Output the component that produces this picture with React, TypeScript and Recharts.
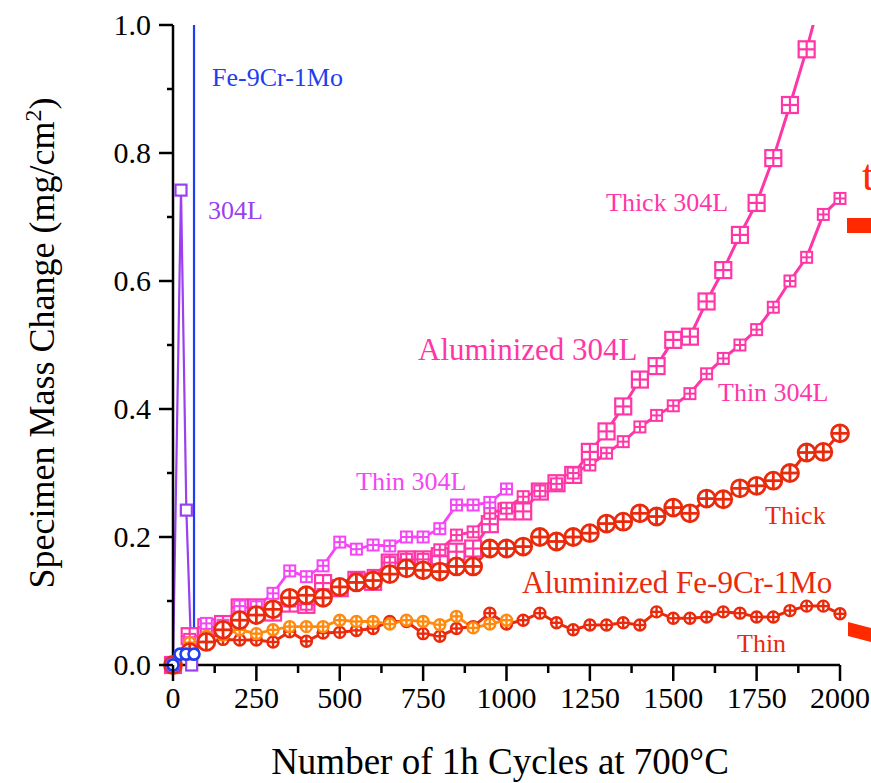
import React from 'react';
import { LineChart, Line, XAxis, YAxis } from 'recharts';

// ---------- data ----------
const cycles = [0, 50, 100, 150, 200, 250, 300, 350, 400, 450, 500, 550, 600, 650, 700, 750, 800, 850, 900, 950, 1000,
  1050, 1100, 1150, 1200, 1250, 1300, 1350, 1400, 1450, 1500, 1550, 1600, 1650, 1700, 1750, 1800, 1850, 1900, 1950, 2000];

// Aluminized 304L, thick coating (large squares)
const alThick304L = [0, 0.045, 0.059, 0.064, 0.09, 0.09, 0.082, 0.096, 0.094, 0.128, 0.12, 0.133, 0.13, 0.16, 0.165, 0.165,
  0.17, 0.177, 0.182, 0.22, 0.24, 0.24, 0.271, 0.284, 0.297, 0.333, 0.365, 0.404, 0.446, 0.467, 0.508, 0.513, 0.568, 0.617,
  0.672, 0.722, 0.792, 0.875, 0.962, 1.06];

// Aluminized 304L, thin coating (medium squares)
const alThin304L = [0, 0.04, 0.05, 0.055, 0.075, 0.08, 0.09, 0.1, 0.095, 0.11, 0.12, 0.135, 0.14, 0.16, 0.165, 0.165, 0.18,
  0.203, 0.208, 0.237, 0.245, 0.263, 0.272, 0.283, 0.3, 0.3125, 0.331, 0.349, 0.372, 0.39, 0.405, 0.424, 0.455, 0.479, 0.5,
  0.524, 0.559, 0.6, 0.637, 0.704, 0.729];

// Thin 304L (magenta, to 1000 cycles)
const thin304LMagenta = [0, 0.035, 0.065, 0.062, 0.092, 0.091, 0.112, 0.147, 0.138, 0.155, 0.192, 0.181, 0.1875, 0.186, 0.2,
  0.2, 0.213, 0.25, 0.25, 0.254, 0.275];

// Aluminized Fe-9Cr-1Mo, thick coating
const alThickFe9Cr = [0, 0.02, 0.036, 0.055, 0.07, 0.078, 0.087, 0.105, 0.109, 0.105, 0.122, 0.129, 0.132, 0.142, 0.151, 0.148,
  0.146, 0.154, 0.154, 0.182, 0.182, 0.185, 0.2, 0.193, 0.2, 0.206, 0.221, 0.224, 0.237, 0.232, 0.246, 0.237, 0.26, 0.259,
  0.276, 0.28, 0.288, 0.3, 0.332, 0.333, 0.362];

// Aluminized Fe-9Cr-1Mo, thin coating
const alThinFe9Cr = [0, 0.025, 0.035, 0.04, 0.039, 0.039, 0.036, 0.052, 0.037, 0.05, 0.051, 0.054, 0.057, 0.068, 0.068, 0.049,
  0.045, 0.057, 0.06, 0.081, 0.064, 0.07, 0.081, 0.066, 0.055, 0.0625, 0.0625, 0.066, 0.0625, 0.083, 0.073, 0.073, 0.075,
  0.083, 0.081, 0.075, 0.075, 0.085, 0.092, 0.092, 0.08];

// Orange series (to 1000 cycles)
const orangeFe9Cr = [0, 0.035, 0.045, 0.047, 0.055, 0.049, 0.055, 0.06, 0.06, 0.06, 0.07, 0.068, 0.068, 0.064, 0.07, 0.068,
  0.063, 0.076, 0.058, 0.064, 0.07];

// Bare Fe-9Cr-1Mo
const bareFeCycles = [0, 21, 39, 63, 63];
const bareFeValues = [0, 0.017, 0.017, 0.017, 3];

// Bare 304L
const bare304LCycles = [0, 24, 40, 56];
const bare304LValues = [0, 0.742, 0.242, 0];

const yTicks = [0, 0.1, 0.2, 0.3, 0.4, 0.5, 0.6, 0.7, 0.8, 0.9, 1.0];
const xTicks = [0, 125, 250, 375, 500, 625, 750, 875, 1000, 1125, 1250, 1375, 1500, 1625, 1750, 1875, 2000];
const yLabels = ['0.0', '', '0.2', '', '0.4', '', '0.6', '', '0.8', '', '1.0'];

const Y_MAX = 1;
const build = (xs: number[], ys: number[]) => ys.map((y, i) => ({ x: xs[i], y }));
const inRange = (rows: { x: number; y: number }[]) => rows.filter((r) => r.y <= Y_MAX);

const C_PINK = '#ff36a8';
const C_MAGENTA = '#f545f5';
const C_RED = '#ea2a0c';
const C_ORANGE = '#ff8a10';
const C_BLUE = '#1f3ef0';
const C_PURPLE = '#9a40f0';
const FONT = '"Liberation Serif", "Times New Roman", serif';

// ---------- markers ----------
const squareCross = (color: string, h: number, sw: number, cross = true) => (props: any) => {
  const { cx, cy, index } = props;
  if (cx == null || cy == null) return <g key={`n${index}`} />;
  return (
    <g key={`sq${index}`}>
      <rect x={cx - h} y={cy - h} width={2 * h} height={2 * h} fill="#fff" stroke={color} strokeWidth={sw} />
      {cross && <line x1={cx - h} x2={cx + h} y1={cy} y2={cy} stroke={color} strokeWidth={sw} />}
      {cross && <line x1={cx} x2={cx} y1={cy - h} y2={cy + h} stroke={color} strokeWidth={sw} />}
    </g>
  );
};

const circlePlus = (color: string, r: number, sw: number, cross = true) => (props: any) => {
  const { cx, cy, index } = props;
  if (cx == null || cy == null) return <g key={`n${index}`} />;
  return (
    <g key={`ci${index}`}>
      <circle cx={cx} cy={cy} r={r} fill="#fff" stroke={color} strokeWidth={sw} />
      {cross && <line x1={cx - r} x2={cx + r} y1={cy} y2={cy} stroke={color} strokeWidth={sw} />}
      {cross && <line x1={cx} x2={cx} y1={cy - r} y2={cy + r} stroke={color} strokeWidth={sw} />}
    </g>
  );
};

// ---------- ticks ----------
const YTick = (props: any) => {
  const { x, y, index } = props;
  const major = index % 2 === 0;
  return (
    <g>
      <line x1={x} x2={x - (major ? 14 : 6)} y1={y} y2={y} stroke="#000" strokeWidth={2.5} />
      {major && (
        <text x={x - 22} y={y + 10} textAnchor="end" fontSize={30} fontFamily={FONT} fill="#000">
          {yLabels[index]}
        </text>
      )}
    </g>
  );
};

const XTick = (props: any) => {
  const { x, y, payload, index } = props;
  const major = index % 2 === 0;
  return (
    <g>
      <line x1={x} x2={x} y1={y} y2={y + (major ? 16 : 8)} stroke="#000" strokeWidth={2.5} />
      {major && (
        <text x={x} y={y + 43} textAnchor="middle" fontSize={30} fontFamily={FONT} fill="#000">
          {payload.value}
        </text>
      )}
    </g>
  );
};

type Series = {
  key: string;
  rows: { x: number; y: number }[];
  color: string;
  width: number;
  dot: (p: any) => React.ReactElement;
};

const series: Series[] = [
  { key: 'alThick304L', rows: build(cycles, alThick304L), color: C_PINK, width: 3, dot: squareCross(C_PINK, 8, 2.2) },
  { key: 'alThin304L', rows: build(cycles, alThin304L), color: C_PINK, width: 3, dot: squareCross(C_PINK, 5.5, 2) },
  { key: 'thin304L', rows: build(cycles, thin304LMagenta), color: C_MAGENTA, width: 2.8, dot: squareCross(C_MAGENTA, 5.5, 2) },
  { key: 'alThinFe', rows: build(cycles, alThinFe9Cr), color: C_RED, width: 3, dot: circlePlus(C_RED, 5.5, 2.4) },
  { key: 'orangeFe', rows: build(cycles, orangeFe9Cr), color: C_ORANGE, width: 2.8, dot: circlePlus(C_ORANGE, 5.5, 2.4) },
  { key: 'alThickFe', rows: build(cycles, alThickFe9Cr), color: C_RED, width: 3, dot: circlePlus(C_RED, 8.5, 2.8) },
  { key: 'bare304L', rows: build(bare304LCycles, bare304LValues), color: C_PURPLE, width: 2.2, dot: squareCross(C_PURPLE, 5.5, 2.2, false) },
  { key: 'bareFe', rows: build(bareFeCycles, bareFeValues), color: C_BLUE, width: 2.2, dot: circlePlus(C_BLUE, 5.5, 2.6, false) },
];

export default function App() {
  const axisLine = { stroke: '#000', strokeWidth: 2.5 };
  const elems: React.ReactElement[] = [];
  series.forEach((s) => {
    elems.push(
      <Line key={`${s.key}-line`} data={s.rows} dataKey="y" stroke={s.color} strokeWidth={s.width}
        dot={false} activeDot={false} isAnimationActive={false} />
    );
    elems.push(
      <Line key={`${s.key}-dots`} yAxisId="dots" data={inRange(s.rows)} dataKey="y" stroke="none"
        dot={s.dot} activeDot={false} isAnimationActive={false} legendType="none" />
    );
  });
  return (
    <div style={{ position: 'absolute', left: 0, top: 0, width: 871, height: 783, background: '#fff' }}>
      <LineChart width={871} height={783} margin={{ top: 25, right: 31, left: 0, bottom: 0 }}>
        <XAxis dataKey="x" type="number" domain={[0, 2000]} ticks={xTicks} interval={0} height={118}
          tickSize={0} tickMargin={0} tickLine={false} axisLine={axisLine} tick={<XTick />} />
        <YAxis type="number" domain={[0, Y_MAX]} ticks={yTicks} interval={0} width={173}
          tickSize={0} tickMargin={0} tickLine={false} axisLine={axisLine} tick={<YTick />} allowDataOverflow />
        <YAxis yAxisId="dots" type="number" domain={[0, Y_MAX]} hide width={0} />
        <XAxis xAxisId="top" orientation="top" type="number" domain={[0, 2000]} height={0}
          tick={false} tickLine={false} axisLine={axisLine} />
        <YAxis yAxisId="right" orientation="right" type="number" domain={[0, Y_MAX]} width={0}
          tick={false} tickLine={false} axisLine={axisLine} />
        {elems}
      </LineChart>

      <svg width={871} height={783} style={{ position: 'absolute', left: 0, top: 0, pointerEvents: 'none' }}
        fontFamily={FONT}>
        <text x={212} y={86} fontSize={26} fill={C_BLUE}>Fe-9Cr-1Mo</text>
        <text x={208} y={219} fontSize={26} fill={C_PURPLE}>304L</text>
        <text x={606} y={211} fontSize={26} fill={C_PINK}>Thick 304L</text>
        <text x={418} y={360} fontSize={31} fill={C_PINK}>Aluminized 304L</text>
        <text x={718} y={401} fontSize={26} fill={C_PINK}>Thin 304L</text>
        <text x={356} y={490} fontSize={26} fill={C_MAGENTA}>Thin 304L</text>
        <text x={765} y={524} fontSize={26} fill={C_RED}>Thick</text>
        <text x={522} y={593} fontSize={31} fill={C_RED}>Aluminized Fe-9Cr-1Mo</text>
        <text x={737} y={652} fontSize={26} fill={C_RED}>Thin</text>

        <text x={500} y={774} fontSize={37} textAnchor="middle" fill="#000">Number of 1h Cycles at 700°C</text>
        <text transform="translate(54,343) rotate(-90)" fontSize={36} textAnchor="middle" fill="#000">
          Specimen Mass Change (mg/cm<tspan dy={-13} fontSize={24}>2</tspan><tspan dy={13}>)</tspan>
        </text>

        <text x={862} y={190} fontSize={44} fill="#ff2a00">t</text>
        <rect x={847} y={218} width={30} height={15} fill="#ff2a00" />
        <polygon points="848,622 871,628 871,642 848,636" fill="#ff2a00" />
      </svg>
    </div>
  );
}
